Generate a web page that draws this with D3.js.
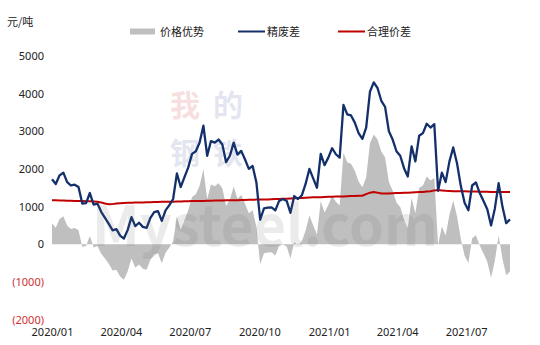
<!DOCTYPE html>
<html>
<head>
<meta charset="utf-8">
<script src="https://cdn.jsdelivr.net/npm/d3@7"></script>
<style>
  body { margin: 0; background: #fff; }
  text { font-family: "Noto Sans CJK SC", "Noto Sans", sans-serif; }
</style>
</head>
<body>
<div id="container"></div>
<script>
// 数据：2020-01-01 起每5天一个点
var startDate = new Date(2020, 0, 1);
var stepDays = 5;

// 精废差 (元/吨)
var spread = [
  1725, 1600, 1830, 1900, 1650, 1560, 1580, 1520, 1080, 1090,
  1360, 1050, 1080, 860, 700, 540, 370, 400, 230, 150,
  380, 720, 480, 570, 460, 435, 700, 850, 880, 620,
  900, 1040, 1200, 1880, 1520, 1780, 2040, 2400, 2470, 2700,
  3150, 2350, 2740, 2700, 2780, 2650, 2180, 2350, 2700, 2380,
  2480, 2250, 2000, 2080, 1640, 650, 950, 970, 980, 900,
  1150, 1200, 1150, 835, 1280, 1200, 1300, 1600, 2000, 1750,
  1500, 2400, 2100, 2300, 2550, 2390, 2300, 3700, 3450, 3420,
  3230, 2950, 2800, 3100, 4050, 4300, 4150, 3810, 3650, 3000,
  2780, 2470, 2350, 2020, 1800, 2600, 2200, 2880, 2950, 3200,
  3100, 3190, 1420, 1900, 1650, 2200, 2570, 2150, 1550, 1100,
  900, 1560, 1640, 1360, 1150, 930, 500, 950, 1620, 1000,
  560, 660
];

// 合理价差 (元/吨)
var fairSpread = [
  1165, 1165, 1160, 1160, 1155, 1155, 1150, 1150, 1145, 1140,
  1140, 1135, 1130, 1110, 1080, 1060, 1065, 1080, 1090, 1095,
  1100, 1100, 1105, 1110, 1110, 1115, 1115, 1120, 1120, 1125,
  1125, 1130, 1130, 1135, 1135, 1140, 1140, 1145, 1145, 1150,
  1150, 1155, 1155, 1160, 1160, 1160, 1165, 1165, 1170, 1170,
  1175, 1175, 1180, 1180, 1185, 1185, 1190, 1190, 1195, 1200,
  1200, 1205, 1210, 1215, 1220, 1225, 1230, 1235, 1240, 1245,
  1250, 1250, 1255, 1260, 1260, 1265, 1270, 1270, 1275, 1280,
  1280, 1285, 1290, 1330, 1370, 1385, 1370, 1350, 1345, 1350,
  1355, 1360, 1360, 1365, 1370, 1375, 1380, 1385, 1390, 1400,
  1410, 1430, 1440, 1430, 1420, 1415, 1410, 1410, 1405, 1405,
  1400, 1400, 1400, 1395, 1395, 1395, 1390, 1390, 1390, 1385,
  1385, 1385
];

// 价格优势 (元/吨)
var advantage = [
  560, 435, 670, 740, 495, 405, 430, 370, -65, -50,
  220, -85, -50, -250, -380, -520, -695, -680, -860, -945,
  -720, -380, -625, -540, -650, -680, -415, -270, -240, -505,
  -225, -90, 70, 745, 385, 640, 900, 1255, 1325, 1550,
  2000, 1195, 1585, 1540, 1620, 1490, 1015, 1185, 1530, 1210,
  1305, 1075, 820, 900, 455, -535, -240, -220, -215, -300,
  -50, -5, -60, -380, 60, -25, 70, 365, 760, 505,
  250, 1150, 845, 1040, 1290, 1125, 1030, 2430, 2175, 2140,
  1950, 1665, 1510, 1770, 2680, 2915, 2780, 2460, 2305, 1650,
  1425, 1110, 990, 655, 430, 1225, 820, 1495, 1560, 1800,
  1690, 1760, -20, 470, 230, 785, 1160, 740, 145, -305,
  -500, 160, 240, -35, -245, -465, -890, -440, 230, -385,
  -825, -725
];

var yTicks = [5000, 4000, 3000, 2000, 1000, 0, -1000, -2000];
var xTicks = ["2020/01", "2020/04", "2020/07", "2020/10", "2021/01", "2021/04", "2021/07"];
var legendNames = ["价格优势", "精废差", "合理价差"];

var parseMonth = d3.timeParse("%Y/%m");
var dates = spread.map(function(d, i) { return d3.timeDay.offset(startDate, i * stepDays); });

var width = 540, height = 345;
var svg = d3.select("#container").append("svg")
  .attr("width", width)
  .attr("height", height);

svg.append("rect").attr("width", width).attr("height", height).attr("fill", "#fff");

var x = d3.scaleTime()
  .domain([startDate, dates[dates.length - 1]])
  .range([52, 510]);

var y = d3.scaleLinear()
  .domain([-2000, 5000])
  .range([319.5, 56]);

// 价格优势 灰色面积
var area = d3.area()
  .x(function(d, i) { return x(dates[i]); })
  .y0(y(0))
  .y1(function(d) { return y(d); });

svg.append("path")
  .datum(advantage)
  .attr("fill", "#bfbfbf")
  .attr("d", area);

// 合理价差 红线
var line = d3.line()
  .x(function(d, i) { return x(dates[i]); })
  .y(function(d) { return y(d); });

svg.append("path")
  .datum(fairSpread)
  .attr("fill", "none")
  .attr("stroke", "#c00000")
  .attr("stroke-width", 2)
  .attr("d", line);

// 精废差 深蓝线
svg.append("path")
  .datum(spread)
  .attr("fill", "none")
  .attr("stroke", "#14306b")
  .attr("stroke-width", 2.3)
  .attr("stroke-linejoin", "round")
  .attr("d", line);

// 水印
var wm = svg.append("g").attr("opacity", 0.12);
var wmChars = [["我", 185, 116, "#c00000"], ["的", 228, 116, "#1f3c88"], ["钢", 185, 164, "#1f3c88"], ["铁", 228, 164, "#1f3c88"]];
wmChars.forEach(function(c) {
  wm.append("text").attr("x", c[1]).attr("y", c[2]).attr("text-anchor", "middle")
    .attr("font-size", 30).attr("font-weight", "bold").attr("fill", c[3]).text(c[0]);
});
wm.append("text").attr("x", 265).attr("y", 246).attr("text-anchor", "middle")
  .attr("font-size", 56).attr("font-weight", "bold").attr("fill", "#666")
  .attr("font-family", "Liberation Sans, sans-serif").text("Mysteel.com");

// y轴
var yAxis = d3.axisLeft(y)
  .tickValues(yTicks)
  .tickSize(0)
  .tickPadding(0)
  .tickFormat(function(d) { return d < 0 ? "(" + (-d) + ")" : d; });

var gy = svg.append("g")
  .attr("transform", "translate(44,0)")
  .call(yAxis);
gy.select(".domain").remove();
gy.selectAll("text")
  .attr("font-size", 11)
  .attr("fill", function(d) { return d < 0 ? "#cc3333" : "#222"; })
  .style("font-family", "Noto Sans, sans-serif");

// x轴
var xAxis = d3.axisBottom(x)
  .tickValues(xTicks.map(parseMonth))
  .tickSize(0)
  .tickPadding(3)
  .tickFormat(d3.timeFormat("%Y/%m"));

var gx = svg.append("g")
  .attr("transform", "translate(0,325)")
  .call(xAxis);
gx.select(".domain").remove();
gx.selectAll("text")
  .attr("font-size", 11)
  .attr("fill", "#222")
  .style("font-family", "Noto Sans, sans-serif");

// 单位
svg.append("text")
  .attr("x", 7)
  .attr("y", 25.5)
  .attr("font-size", 11)
  .attr("fill", "#222")
  .text("元/吨");

// 图例
var legendX = [130, 238, 338];
var lg = svg.append("g");
legendNames.forEach(function(name, i) {
  if (i === 0) {
    lg.append("rect").attr("x", legendX[i]).attr("y", 28.5).attr("width", 25).attr("height", 6).attr("fill", "#bfbfbf");
  } else {
    lg.append("line").attr("x1", legendX[i]).attr("x2", legendX[i] + 27)
      .attr("y1", 31.5).attr("y2", 31.5)
      .attr("stroke", i === 1 ? "#14306b" : "#c00000").attr("stroke-width", 2);
  }
  lg.append("text")
    .attr("x", legendX[i] + (i === 0 ? 30 : 29))
    .attr("y", 35.5)
    .attr("font-size", 11)
    .attr("fill", "#222")
    .text(name);
});
</script>
</body>
</html>
